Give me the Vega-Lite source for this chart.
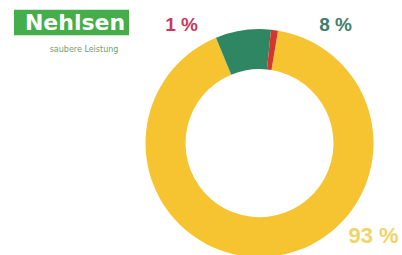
{
  "$schema": "https://vega.github.io/schema/vega-lite/v6.json",
  "width": 402,
  "height": 255,
  "autosize": {"type": "fit", "contains": "padding"},
  "padding": 0,
  "background": "white",
  "config": {"view": {"stroke": null}},
  "datasets": {
    "shares": [
      {"category": "Gelb", "value": 93, "label": "93 %"},
      {"category": "Grün", "value": 8, "label": "8 %"},
      {"category": "Rot", "value": 1, "label": "1 %"}
    ],
    "logo": [
      {"name": "Nehlsen", "claim": "saubere Leistung"}
    ]
  },
  "data": {"name": "shares"},
  "layer": [
    {
      "data": {"name": "logo"},
      "mark": {"type": "rect", "color": "#45ae4b"},
      "encoding": {
        "x": {"datum": 14, "type": "quantitative", "scale": {"domain": [0, 402], "nice": false, "zero": false}, "axis": null},
        "x2": {"datum": 129},
        "y": {"datum": 10, "type": "quantitative", "scale": {"domain": [0, 255], "reverse": true, "nice": false, "zero": false}, "axis": null},
        "y2": {"datum": 36}
      }
    },
    {
      "data": {"name": "logo"},
      "mark": {"type": "text", "font": "DejaVu Sans", "fontWeight": "bold", "fontSize": 22, "color": "white", "align": "center", "baseline": "middle"},
      "encoding": {
        "x": {"datum": 75, "type": "quantitative"},
        "y": {"datum": 23, "type": "quantitative"},
        "text": {"field": "name"}
      }
    },
    {
      "data": {"name": "logo"},
      "mark": {"type": "text", "font": "DejaVu Sans", "fontSize": 8, "color": "#6f9c76", "align": "center", "baseline": "middle"},
      "encoding": {
        "x": {"datum": 84, "type": "quantitative"},
        "y": {"datum": 51, "type": "quantitative"},
        "text": {"field": "claim"}
      }
    },
    {
      "mark": {"type": "arc", "innerRadius": 74, "outerRadius": 114},
      "encoding": {
        "x": {"datum": 259.5, "type": "quantitative"},
        "y": {"datum": 146, "type": "quantitative"},
        "theta": {"field": "value", "type": "quantitative", "stack": true, "scale": {"range": [0.1627, 6.4459]}},
        "order": {"field": "category", "sort": "ascending"},
        "color": {"field": "category", "type": "nominal", "scale": {"domain": ["Gelb", "Grün", "Rot"], "range": ["#f6c431", "#2e8762", "#d4362f"]}, "legend": null}
      }
    },
    {
      "transform": [{"filter": "datum.category === 'Rot'"}],
      "mark": {"type": "text", "font": "Liberation Sans", "fontWeight": "bold", "fontSize": 19, "color": "#c83a5e", "align": "center", "baseline": "middle"},
      "encoding": {
        "x": {"datum": 181.5, "type": "quantitative"},
        "y": {"datum": 25, "type": "quantitative"},
        "text": {"field": "label"}
      }
    },
    {
      "transform": [{"filter": "datum.category === 'Grün'"}],
      "mark": {"type": "text", "font": "Liberation Sans", "fontWeight": "bold", "fontSize": 19, "color": "#3e8068", "align": "center", "baseline": "middle"},
      "encoding": {
        "x": {"datum": 335.5, "type": "quantitative"},
        "y": {"datum": 26, "type": "quantitative"},
        "text": {"field": "label"}
      }
    },
    {
      "transform": [{"filter": "datum.category === 'Gelb'"}],
      "mark": {"type": "text", "font": "Liberation Sans", "fontWeight": "bold", "fontSize": 22, "color": "#f0d468", "align": "center", "baseline": "middle"},
      "encoding": {
        "x": {"datum": 373.5, "type": "quantitative"},
        "y": {"datum": 241, "type": "quantitative"},
        "text": {"field": "label"}
      }
    }
  ]
}
